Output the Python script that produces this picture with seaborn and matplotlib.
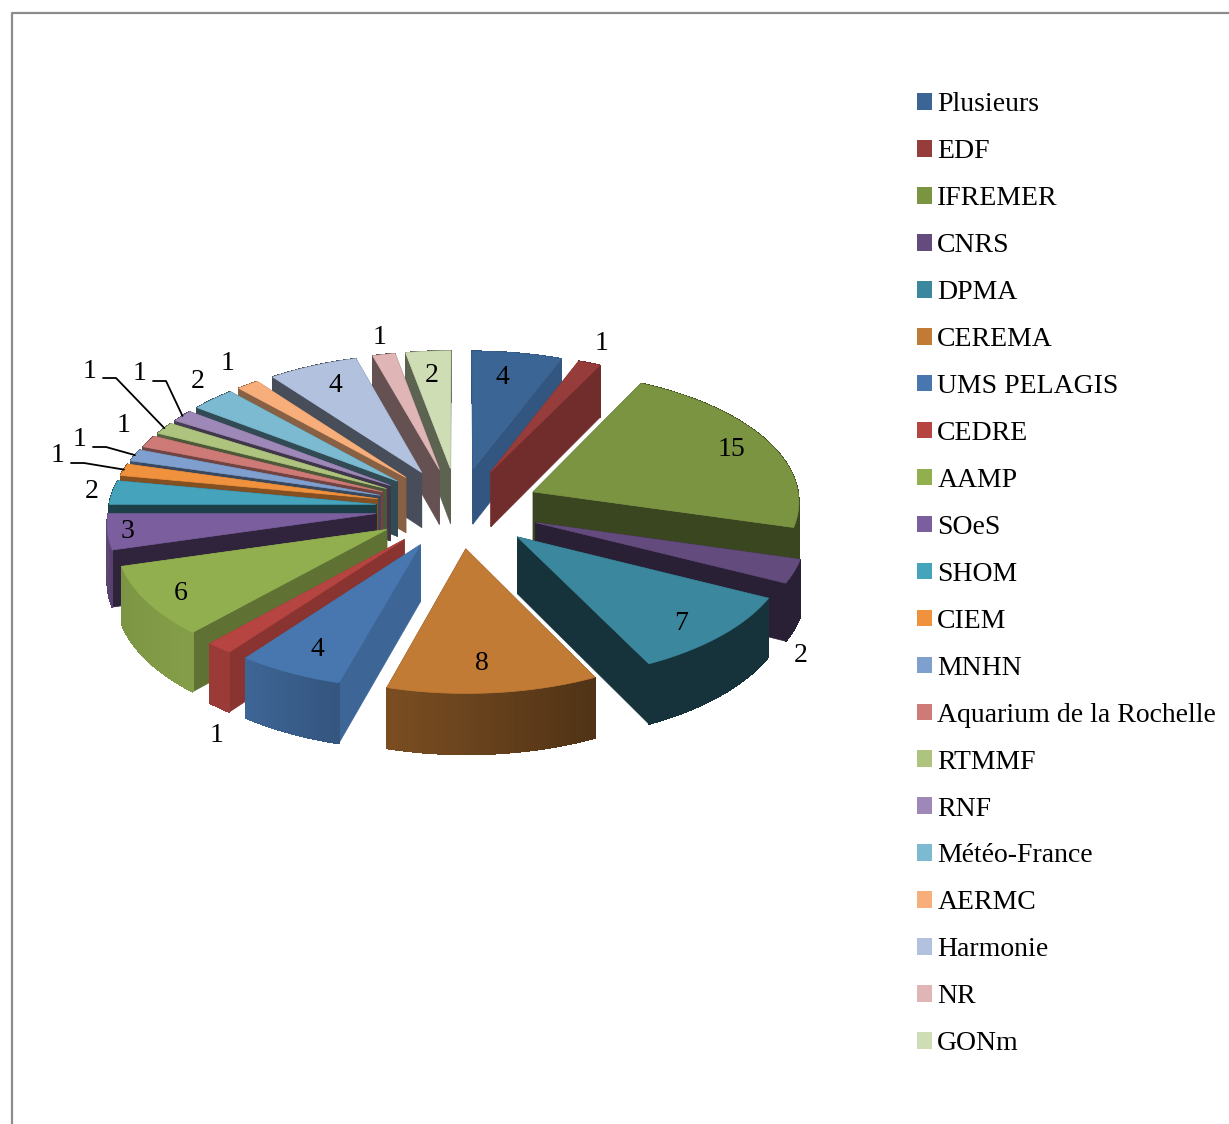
import numpy as np
import pandas as pd
import matplotlib
matplotlib.use('Agg')
import matplotlib.pyplot as plt
import seaborn as sns
from matplotlib.patches import Patch

organismes = ['Plusieurs', 'EDF', 'IFREMER', 'CNRS', 'DPMA', 'CEREMA', 'UMS PELAGIS', 'CEDRE',
              'AAMP', 'SOeS', 'SHOM', 'CIEM', 'MNHN', 'Aquarium de la Rochelle', 'RTMMF', 'RNF',
              'Météo-France', 'AERMC', 'Harmonie', 'NR', 'GONm']
nombres = [4, 1, 15, 2, 7, 8, 4, 1, 6, 3, 2, 1, 1, 1, 1, 1, 2, 1, 4, 1, 2]

# style
couleurs = ['#3B6595', '#963C3A', '#7B9442', '#644B7E', '#3A879E', '#C27B35', '#4877B0',
            '#B64541', '#92AF50', '#7B5E9E', '#46A3BC', '#F0913D', '#7F9FCF', '#CE7B78',
            '#AEC47E', '#9E88B8', '#7BBAD0', '#F8AE7A', '#B2C2DE', '#E0B5B5', '#CFDDB5']
ombre_radiale = [.85, .75, .47, .42, .38, .42, .85, .75, .65, .38, .38, .55, .45, .55, .45, .4,
                 .4, .55, .4, .45, .45]
ombre_debut = [.85, .75, .47, .42, .38, .41, .72, .85, .9, .7, .4, .55, .5, .55, .5, .45, .4,
               .55, .4, .45, .45]
ombre_fin = [.85, .75, .47, .42, .38, .63, .85, .85, .85, .75, .4, .55, .5, .55, .5, .45, .4,
             .55, .4, .45, .45]
# label positions in pixels (x, y), picked by hand
pos_labels = [(502, 378), (602, 343), (731, 450), (801, 656), (681, 624), (482, 664), (317, 650),
              (217, 736), (181, 594), (128, 532), (92, 492), (58, 456), (80, 440), (124, 426),
              (90, 371), (140, 374), (198, 382), (228, 363), (335, 386), (380, 338), (432, 375)]
avec_trait = ['CIEM', 'MNHN', 'RTMMF', 'RNF']

CX, CY = 458, 508
A, B = 267, 130
PERSP = 0.063
EXPL = 0.31
EPAIS = 56


def projection(x, y, z=0.0):
    s = 1 / (1 - PERSP * y)
    return CX + A * x * s, CY + B * y * s + z * EPAIS * s


def assombrir(couleur, f):
    r, g, b = matplotlib.colors.to_rgb(couleur)
    return (r * f, g * f, b * f)


def part(t1, t2, n=40):
    # centre and rim of one slice, angles clockwise from the top
    m = np.radians((t1 + t2) / 2)
    ox, oy = EXPL * np.sin(m), -EXPL * np.cos(m)
    t = np.radians(np.linspace(t1, t2, n))
    return ox, oy, ox + np.sin(t), oy - np.cos(t)


def poly(ax, xs, ys, zs, couleur, zorder, lisse=True):
    px, py = projection(np.array(xs), np.array(ys), np.array(zs))
    ax.fill(px, py, color=couleur, lw=0.5, zorder=zorder, antialiased=lisse)


def dessine_part(ax, t1, t2, couleur, f_rad, f1, f2, zorder):
    ox, oy, rx, ry = part(t1, t2)
    murs = [
        (oy + ry[0], [ox, rx[0], rx[0], ox], [oy, ry[0], ry[0], oy]),
        (oy + ry[-1], [ox, rx[-1], rx[-1], ox], [oy, ry[-1], ry[-1], oy]),
    ]
    for _, xs, ys in sorted(murs, key=lambda m: m[0]):
        poly(ax, xs, ys, [0, 0, 1, 1], assombrir(couleur, f_rad), zorder)
    # outer wall: smooth outline first, then strips so the shade runs along the arc
    poly(ax, np.r_[rx, rx[::-1]], np.r_[ry, ry[::-1]], np.r_[np.zeros(len(rx)), np.ones(len(rx))],
         assombrir(couleur, (f1 + f2) / 2), zorder)
    for i in range(len(rx) - 1):
        f = f1 + (f2 - f1) * i / (len(rx) - 2)
        poly(ax, [rx[i], rx[i + 1], rx[i + 1], rx[i]], [ry[i], ry[i + 1], ry[i + 1], ry[i]],
             [0, 0, 1, 1], assombrir(couleur, f), zorder, lisse=False)
    poly(ax, np.r_[ox, rx], np.r_[oy, ry], np.zeros(len(rx) + 1), couleur, zorder)


df = pd.DataFrame({'organisme': organismes, 'nombre': nombres})
df['fin'] = df['nombre'].cumsum() / df['nombre'].sum() * 360
df['debut'] = df['fin'] - df['nombre'] / df['nombre'].sum() * 360
df['milieu'] = (df['debut'] + df['fin']) / 2

sns.set_theme(style='white')
plt.rcParams['font.family'] = ['Liberation Serif', 'DejaVu Serif']

fig = plt.figure(figsize=(12.29, 11.24), dpi=100)
ax = fig.add_axes([0, 0, 1, 1])
ax.set_xlim(0, 1229)
ax.set_ylim(1124, 0)
ax.axis('off')

# frame of the pasted chart
ax.plot([12, 12, 1229], [1124, 13, 13], color='#8C8C8C', lw=1.6, zorder=1)

# back slices first
ordre = (-np.cos(np.radians(df['milieu']))).argsort()
for rang, i in enumerate(ordre):
    ligne = df.iloc[i]
    dessine_part(ax, ligne['debut'], ligne['fin'], couleurs[i], ombre_radiale[i],
                 ombre_debut[i], ombre_fin[i], 2 + rang)

for i, ligne in df.iterrows():
    lx, ly = pos_labels[i]
    ax.text(lx, ly, str(ligne['nombre']), fontsize=20, color='black', ha='center', va='center',
            zorder=50)
    if ligne['organisme'] in avec_trait:
        ox, oy, rx, ry = part(ligne['debut'], ligne['fin'])
        ex, ey = projection(rx[20], ry[20])
        ax.plot([lx + 13, lx + 26, ex], [ly + 7, ly + 7, ey], color='black', lw=1.3, zorder=50)

handles = [Patch(facecolor=c, edgecolor='none', label=o) for c, o in zip(couleurs, organismes)]
ax.legend(handles=handles, loc='upper left', bbox_to_anchor=(909 / 1229, 1 - 84 / 1124), frameon=False,
          fontsize=20, handlelength=0.54, handleheight=0.54, handletextpad=0.18,
          labelspacing=0.79, borderaxespad=0, borderpad=0.3, labelcolor='black')

fig.savefig('out.png', dpi=100)
plt.close(fig)
